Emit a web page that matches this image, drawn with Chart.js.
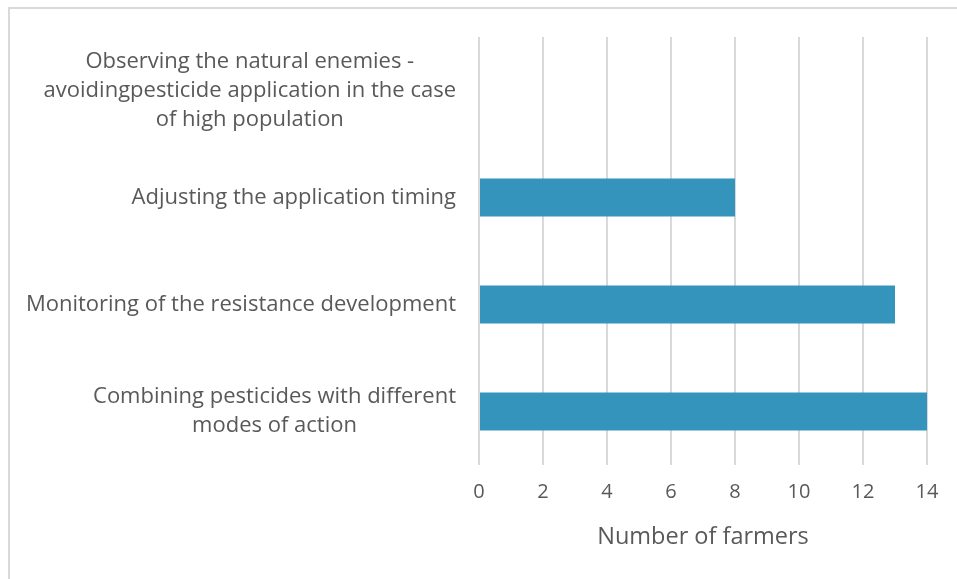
<!DOCTYPE html>
<html>
<head>
<meta charset="utf-8">
<script src="https://cdn.jsdelivr.net/npm/chart.js@4"></script>
<style>
  html, body { margin: 0; padding: 0; background: #fff; }
  #wrap { position: relative; width: 957px; height: 579px; }
  #frame { position: absolute; left: 8px; top: 7px; right: 0; bottom: 0;
           border-left: 2px solid #d9d9d9; border-top: 2px solid #d9d9d9; }
  canvas { position: absolute; left: 0; top: 0; }
</style>
</head>
<body>
<div id="wrap">
  <div id="frame"></div>
  <canvas id="chart" width="957" height="579"></canvas>
</div>
<script>
// kategori etiketleri (her satır ayrı)
const categories = [
  ['Observing the natural enemies -', 'avoidingpesticide application in the case', 'of high population'],
  ['Adjusting the application timing'],
  ['Monitoring of the resistance development'],
  ['Combining pesticides with different', 'modes of action']
];
const farmers = [0, 8, 13, 14];
const xTicks = [0, 2, 4, 6, 8, 10, 12, 14];

const TEXT = '#595959';
const FONT = "'Open Sans', sans-serif";

// kategori etiketlerini blok halinde çiz: satırlar ortalı, blok sağa dayalı
const labelPlugin = {
  id: 'blockLabels',
  afterDraw(chart) {
    const ctx = chart.ctx;
    const y = chart.scales.y;
    const right = 456;
    const lh = 29;
    ctx.save();
    ctx.font = '22px ' + FONT;
    ctx.fillStyle = TEXT;
    ctx.textBaseline = 'middle';
    ctx.textAlign = 'center';
    categories.forEach((lines, i) => {
      const w = Math.max(...lines.map(l => ctx.measureText(l).width));
      const cx = right - w / 2;
      const cy = y.getPixelForValue(i);
      const top = cy - (lines.length - 1) * lh / 2;
      lines.forEach((l, k) => ctx.fillText(l, cx, top + k * lh));
    });
    ctx.restore();
  }
};

new Chart(document.getElementById('chart'), {
  type: 'bar',
  data: {
    labels: categories.map(c => c.join(' ')),
    datasets: [{
      data: farmers,
      backgroundColor: '#3594bb',
      borderWidth: 0,
      barPercentage: 0.355,
      categoryPercentage: 1
    }]
  },
  options: {
    indexAxis: 'y',
    responsive: false,
    animation: false,
    layout: { padding: { top: 37, right: 30, bottom: 28, left: 0 } },
    plugins: { legend: { display: false }, tooltip: { enabled: false } },
    scales: {
      x: {
        min: 0,
        max: 14,
        afterBuildTicks: (s) => { s.ticks = xTicks.map(v => ({ value: v })); },
        afterFit: (s) => { s.height = 86; },
        grid: { color: '#d9d9d9', lineWidth: 2, drawTicks: false },
        border: { display: false },
        ticks: { color: TEXT, font: { family: FONT, size: 20 }, padding: 15 },
        title: {
          display: true,
          text: 'Number of farmers',
          color: TEXT,
          font: { family: FONT, size: 23.5 },
          padding: { top: 10, bottom: 0 }
        }
      },
      y: {
        grid: { display: false },
        border: { display: false },
        ticks: { display: false },
        afterFit: (s) => { s.width = 479; }
      }
    }
  },
  plugins: [labelPlugin]
});
</script>
</body>
</html>
